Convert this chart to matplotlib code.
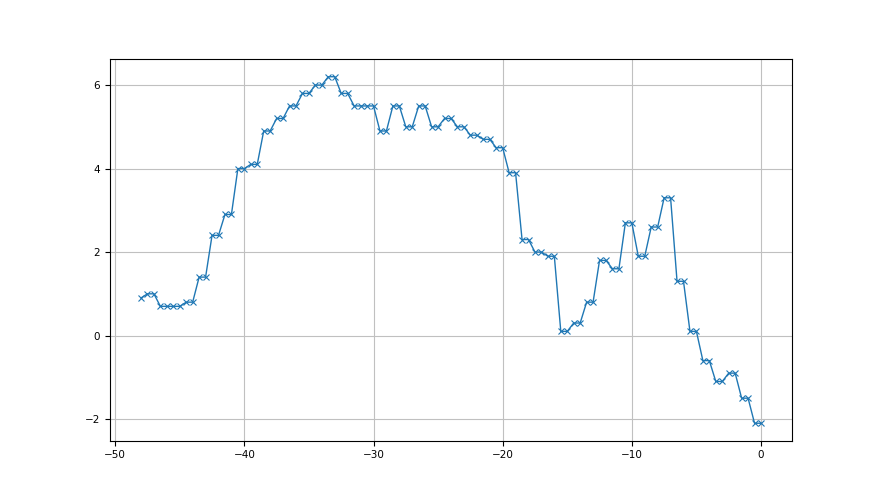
import matplotlib
matplotlib.use("Agg")
import matplotlib.pyplot as plt
import numpy as np

# value at each whole step; every step after the first is drawn twice (x - 0.5 and x)
steps = list(range(-48, 1))
values = [0.9, 1.0, 0.7, 0.7, 0.8, 1.4, 2.4, 2.9, 4.0, 4.1,
          4.9, 5.2, 5.5, 5.8, 6.0, 6.2, 5.8, 5.5, 5.5, 4.9,
          5.5, 5.0, 5.5, 5.0, 5.2, 5.0, 4.8, 4.7, 4.5, 3.9,
          2.3, 2.0, 1.9, 0.1, 0.3, 0.8, 1.8, 1.6, 2.7, 1.9,
          2.6, 3.3, 1.3, 0.1, -0.6, -1.1, -0.9, -1.5, -2.1]

x = [steps[0]]
y = [values[0]]
for s, v in zip(steps[1:], values[1:]):
    x += [s - 0.5, s]
    y += [v, v]

plt.rcParams['font.size'] = 7.5
fig = plt.figure(figsize=(8.8, 4.95), dpi=100)
ax = fig.add_subplot(111)
ax.plot(x, y, marker='x', markersize=4, markeredgewidth=0.8,
        linewidth=1.0, color='#1f77b4')
ax.grid(color='#c0c0c0', linewidth=0.8)
ax.set_xticks([-50, -40, -30, -20, -10, 0])
ax.set_yticks([-2, 0, 2, 4, 6])
fig.savefig("out.png", dpi=100)
